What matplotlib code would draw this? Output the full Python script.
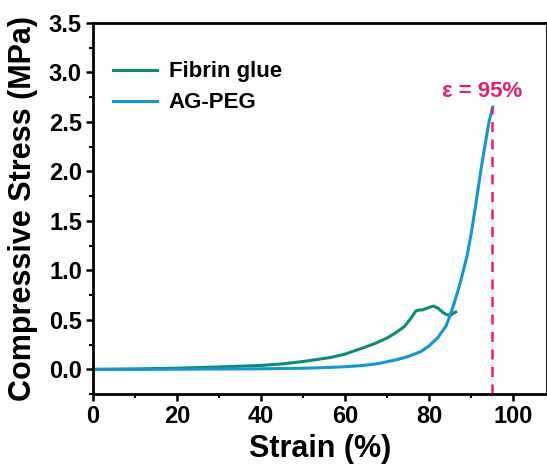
import matplotlib.pyplot as plt
import numpy as np

plt.rcParams['font.family'] = ['Liberation Sans', 'DejaVu Sans']
plt.rcParams['font.weight'] = 'bold'

# Fibrin glue curve (strain %, stress MPa)
fibrin_x = [0, 10, 20, 30, 40, 45, 50, 56.5, 60, 64.4, 67, 70.1, 72, 74, 75.5, 76.8, 77.6, 78.4, 79.5, 81, 82, 83.4, 84.3, 85.1, 86.3]
fibrin_y = [0.0, 0.005, 0.012, 0.025, 0.04, 0.055, 0.08, 0.12, 0.155, 0.22, 0.26, 0.32, 0.37, 0.43, 0.51, 0.59, 0.60, 0.60, 0.62, 0.64, 0.62, 0.57, 0.55, 0.55, 0.58]

# AG-PEG curve
agpeg_x = [0, 10, 20, 30, 40, 50, 55, 60, 64.4, 68, 72.4, 75, 78, 80, 82, 84, 85, 86, 87, 88, 89, 90, 91, 92.3, 93, 94.2, 95.1]
agpeg_y = [0.0, 0.0, 0.002, 0.004, 0.006, 0.012, 0.018, 0.027, 0.04, 0.06, 0.10, 0.13, 0.18, 0.24, 0.32, 0.44, 0.55, 0.68, 0.82, 0.98, 1.15, 1.38, 1.65, 2.02, 2.2, 2.5, 2.65]

strain_break = 95

fig = plt.figure(figsize=(5.47, 4.67), dpi=100)
ax = fig.add_axes([0.170, 0.156, 0.830, 0.795])

ax.plot(fibrin_x, fibrin_y, color='#0f8a78', lw=2.2, label='Fibrin glue')
ax.plot(agpeg_x, agpeg_y, color='#1496d4', lw=2.2, label='AG-PEG')
ax.plot([strain_break, strain_break], [-0.25, agpeg_y[-1]], color='#ec1e6a', lw=1.8, ls=(0, (4, 3)))
ax.text(strain_break - 2.5, 2.70, 'ε = 95%', color='#ec1e6a', fontsize=16, fontweight='bold', ha='center', va='bottom')

ax.set_xlim(0, 108)
ax.set_ylim(-0.25, 3.5)
ax.set_xticks([0, 20, 40, 60, 80, 100])
ax.set_xticks(np.arange(10, 108, 20), minor=True)
ax.set_yticks(np.arange(0, 3.51, 0.5))
ax.set_yticks(np.arange(-0.25, 3.5, 0.5), minor=True)
ax.yaxis.set_major_formatter(plt.FormatStrFormatter('%.1f'))

ax.tick_params(which='major', direction='out', length=5, width=1.8, labelsize=17, pad=3)
ax.tick_params(which='minor', direction='out', length=3, width=1.5)
for s in ax.spines.values():
    s.set_linewidth(2)

ax.set_xlabel('Strain (%)', fontsize=22, fontweight='bold', labelpad=4)
ax.set_ylabel('Compressive Stress (MPa)', fontsize=22, fontweight='bold', labelpad=8)

ax.legend(loc='upper left', frameon=False, fontsize=16, handlelength=2.0, handletextpad=0.5,
          bbox_to_anchor=(0.0, 0.95), labelspacing=0.45)

fig.savefig('out.png', dpi=100)
